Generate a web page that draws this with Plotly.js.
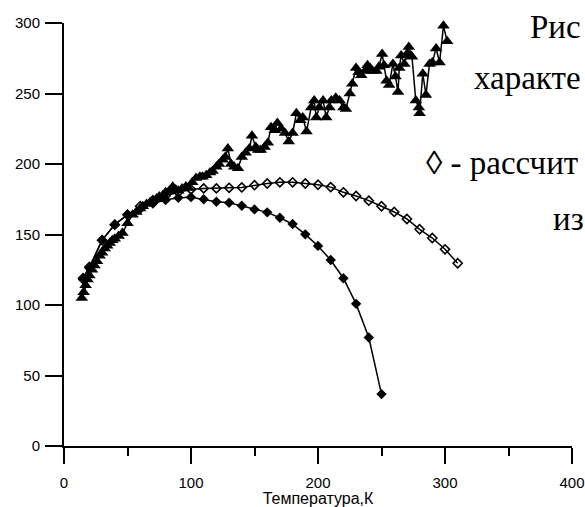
<!DOCTYPE html>
<html>
<head>
<meta charset="utf-8">
<script src="https://cdn.plot.ly/plotly-3.0.1.min.js"></script>
<style>html,body{margin:0;padding:0;background:#fff;}#chart{width:585px;height:507px;}</style>
</head>
<body>
<div id="chart"></div>
<script>
// Experimental (filled triangles)
const expT = [14,15.5,17,18.5,20,22,24,26,28,30,32,34,36,38,40,43,46,50,54,57,60,62,65,68,70,73,75,78,80,83,85.6,88,90,93,96,98,101,104,107,109,112,115,117,120,122,125,127,129,131.6,134,137,140,143,146,148,151,153,155,158,160.5,163,166,168,171,174,177,180,183,186,188,191,194.6,197,198.6,201,204,206.5,209,210.4,214,217,220,222,225,227,230,232,234,237,239,241,243,246,248,250.5,252,254,256,259,261,263,264,265.5,268,270,271.5,273,274,277,279.4,280,282.5,285,287.8,290,293,295.7,298.8,301.7];
const expY = [105,109,114,118,121,125,128,131,135,137,140,142,144,146,147,149,151,158,164,166,168.5,170,171.6,173,174.4,175.5,177,178,180,181,183.8,182,181,182.7,184,183,187,190,191,191,192,194,195,198,200,203,205,211,200,198,197,205,208,211,220,212,210,210,212,215,226,224,229,225,222,216,222,236,231,233,223,240,245,233,240,245,233,240,245,247,245,240,239,250,257,268,265,263,266,270,268,266,266,269,278,270,259,256,271,262,251,268,277,271,278,283,277,276,245,240,236,264,249,271,272,282,272,298,287];

// Calculated (filled diamonds)
const calc1T = [15,20,30,40,50,60,70,80,90,100,110,120,130,140,150,160,170,180,190,200,210,220,230,240,250];
const calc1Y = [118,126,146,157,164,168,172,174.5,176,176.5,175,173.2,172.5,170.4,167.8,165.7,161.9,157.4,150.1,141.9,131.9,119,100.8,76.9,36.8];

// Calculated (open diamonds)
const calc2T = [15,20,30,40,50,60,70,80,90,100,110,120,130,140,150,160,170,180,190,200,210,220,230,240,250,260,270,280,290,300,310];
const calc2Y = [119,127,146,157,164,170,174,177.5,180,182,182.7,182.7,183.1,183.4,185,186.2,187,187,186.2,185.3,183.6,179.9,177.3,174,170,166,161,153.7,147.5,139.5,129.6];

const xTickVals = [0, 100, 200, 300, 400];
const xTickText = ['0', '100', '200', '300', '400'];
const yTickVals = [0, 50, 100, 150, 200, 250, 300];
const xTitle = "Температура,К";
const notes = ["Рис", "характе", "◊ - рассчит", "из"];

const traces = [
  {x: expT, y: expY, mode: 'lines+markers', type: 'scatter', cliponaxis: false,
   line: {color: '#000', width: 1.5},
   marker: {symbol: 'triangle-up', size: 11, color: '#000'}},
  {x: calc2T, y: calc2Y, mode: 'lines+markers', type: 'scatter', cliponaxis: false,
   line: {color: '#000', width: 1.5},
   marker: {symbol: 'diamond-open', size: 7, color: '#000', line: {width: 1.6, color: '#000'}}},
  {x: calc1T, y: calc1Y, mode: 'lines+markers', type: 'scatter', cliponaxis: false,
   line: {color: '#000', width: 1.5},
   marker: {symbol: 'diamond', size: 8, color: '#000'}}
];

const L = 64, T = 23, W = 508, H = 423;
function px(x){ return (x - L) / W; }
function py(y){ return (T + H - y) / H; }
const serif = {family: '"Liberation Serif", "Times New Roman", serif', size: 33, color: '#000'};
const notePos = [[529, 46], [473, 97], [425, 182], [552, 238]];
const annotations = notes.map((t, i) => ({
  text: t, xref: 'paper', yref: 'paper', x: px(notePos[i][0]), y: py(notePos[i][1]),
  xanchor: 'left', yanchor: 'bottom', showarrow: false, font: serif, borderpad: 0
}));

const layout = {
  width: 585, height: 507,
  margin: {l: L, r: 585 - L - W, t: T, b: 507 - T - H},
  paper_bgcolor: '#fff', plot_bgcolor: '#fff',
  showlegend: false,
  font: {family: '"Liberation Sans", Arial, sans-serif', color: '#000'},
  xaxis: {
    range: [0, 400], tickvals: xTickVals, ticktext: xTickText,
    showgrid: false, zeroline: false, showline: true, linecolor: '#000', linewidth: 2,
    ticks: 'outside', ticklen: 16, tickwidth: 2, tickcolor: '#000',
    tickfont: {size: 15}, ticklabelstandoff: 6, ticklabeloverflow: 'allow',
    minor: {tickvals: [50, 150, 250, 350], ticks: 'outside', ticklen: 8, tickwidth: 2, tickcolor: '#000', showgrid: false},
    title: {text: xTitle, font: {size: 16}, standoff: 0}
  },
  yaxis: {
    range: [0, 300], tickvals: yTickVals,
    showgrid: false, zeroline: false, showline: true, linecolor: '#000', linewidth: 2,
    ticks: 'outside', ticklen: 17, tickwidth: 2, tickcolor: '#000',
    tickfont: {size: 15}, ticklabelstandoff: 2, ticklabeloverflow: 'allow'
  },
  annotations: annotations
};

Plotly.newPlot('chart', traces, layout, {displayModeBar: false, staticPlot: true});
</script>
</body>
</html>
